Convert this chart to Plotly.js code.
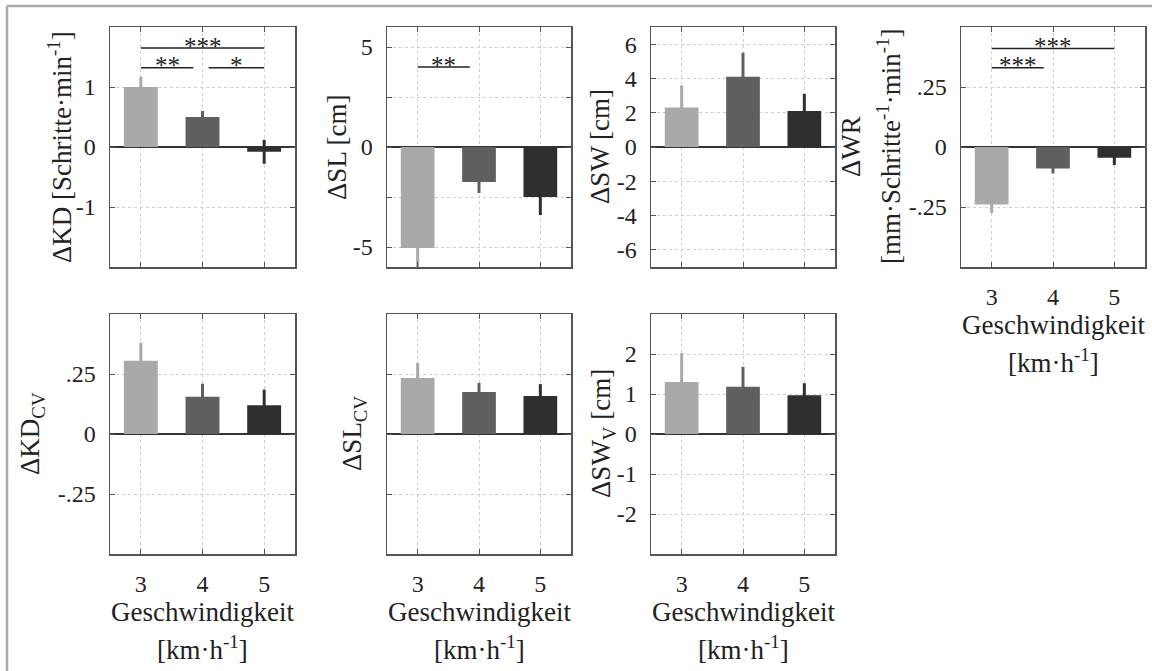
<!DOCTYPE html>
<html>
<head>
<meta charset="utf-8">
<script src="https://cdn.plot.ly/plotly-3.0.1.min.js"></script>
<style>
  html, body { margin: 0; padding: 0; background: #fff; }
  #chart { width: 1152px; height: 671px; }
</style>
</head>
<body>
<div id="chart"></div>
<script>
// Walking speed categories (km/h)
const speeds = [3, 4, 5];
const barColors = ['#a9a9a9', '#5f5f5f', '#2f2f2f'];

// Mean changes and their error values per speed
const kd = [1.0, 0.5, -0.08];
const kdErr = [0.17, 0.1, 0.2];
const sl = [-5.05, -1.75, -2.5];
const slErr = [1.15, 0.55, 0.9];
const sw = [2.3, 4.1, 2.1];
const swErr = [1.3, 1.4, 1.0];
const wr = [-0.24, -0.09, -0.045];
const wrErr = [0.035, 0.02, 0.03];
const kdCv = [0.305, 0.155, 0.12];
const kdCvErr = [0.075, 0.055, 0.065];
const slCv = [0.233, 0.175, 0.158];
const slCvErr = [0.063, 0.038, 0.05];
const swV = [1.3, 1.18, 0.97];
const swVErr = [0.72, 0.5, 0.3];

// Significance brackets: [from, to, height, stars]
const kdSig = [[3, 5, 1.65, '***'], [3, 3.85, 1.32, '**'], [4.1, 5, 1.32, '*']];
const slSig = [[3, 3.85, 4.0, '**']];
const wrSig = [[3, 5, 0.41, '***'], [3, 3.85, 0.33, '***']];

const W = 1152, H = 671;
const fx = px => px / W;
const fy = py => 1 - py / H;

// Panel boxes in pixels: [left, right, top, bottom]
const panels = [
  { box: [110, 295, 27, 267], vals: kd, err: kdErr, range: [-2, 2], ticks: [-1, 0, 1], labels: ['-1', '0', '1'], sig: kdSig, xlabels: false,
    ytitle: ['ΔKD [Schritte·min<sup>-1</sup>]'], ytx: [60] },
  { box: [387, 571, 27, 267], vals: sl, err: slErr, range: [-6, 6], ticks: [-5, -2.5, 0, 2.5, 5], labels: ['-5', ' ', '0', ' ', '5'], sig: slSig, xlabels: false,
    ytitle: ['ΔSL [cm]'], ytx: [337] },
  { box: [651, 835, 27, 267], vals: sw, err: swErr, range: [-7, 7], ticks: [-6, -4, -2, 0, 2, 4, 6], labels: ['-6', '-4', '-2', '0', '2', '4', '6'], sig: [], xlabels: false,
    ytitle: ['ΔSW [cm]'], ytx: [600] },
  { box: [961, 1145, 27, 267], vals: wr, err: wrErr, range: [-0.5, 0.5], ticks: [-0.25, 0, 0.25], labels: ['-.25', '0', '.25'], sig: wrSig, xlabels: true,
    ytitle: ['ΔWR', '[mm·Schritte<sup>-1</sup>·min<sup>-1</sup>]'], ytx: [851, 889] },
  { box: [110, 295, 314, 554], vals: kdCv, err: kdCvErr, range: [-0.5, 0.5], ticks: [-0.25, 0, 0.25], labels: ['-.25', '0', '.25'], sig: [], xlabels: true,
    ytitle: ['ΔKD<sub>CV</sub>'], ytx: [32] },
  { box: [387, 571, 314, 554], vals: slCv, err: slCvErr, range: [-0.5, 0.5], ticks: [-0.25, 0, 0.25], labels: null, sig: [], xlabels: true,
    ytitle: ['ΔSL<sub>CV</sub>'], ytx: [354] },
  { box: [651, 835, 314, 554], vals: swV, err: swVErr, range: [-3, 3], ticks: [-2, -1, 0, 1, 2], labels: ['-2', '-1', '0', '1', '2'], sig: [], xlabels: true,
    ytitle: ['ΔSW<sub>V</sub> [cm]'], ytx: [603] }
];

const family = '"Liberation Serif", "Times New Roman", Times, serif';
const txt = (size) => ({ family: family, size: size, color: '#222' });
const axisLine = '#555';
const traces = [];
const layout = {
  width: W, height: H,
  margin: { l: 0, r: 0, t: 0, b: 0 },
  paper_bgcolor: '#fff', plot_bgcolor: '#fff',
  barmode: 'overlay',
  showlegend: false,
  font: txt(23),
  shapes: [],
  annotations: []
};

panels.forEach((p, i) => {
  const n = i + 1;
  const xa = 'x' + n, ya = 'y' + n;
  const [l, r, t, b] = p.box;

  speeds.forEach((s, j) => {
    traces.push({
      type: 'bar', x: [s], y: [p.vals[j]], width: 0.55,
      xaxis: xa, yaxis: ya,
      marker: { color: barColors[j], line: { width: 0 } },
      error_y: { type: 'data', array: [p.err[j]], visible: true, color: barColors[j], thickness: 3, width: 0 },
      hoverinfo: 'y'
    });
  });

  layout['xaxis' + (n === 1 ? '' : n)] = {
    domain: [fx(l), fx(r)], anchor: ya,
    range: [2.5, 5.5], tickvals: speeds, ticktext: speeds.map(String),
    showticklabels: p.xlabels, tickfont: txt(24),
    ticklabelstandoff: 8,
    showgrid: true, gridcolor: '#cfcfcf', griddash: 'dot', gridwidth: 1,
    showline: true, linecolor: axisLine, linewidth: 1.5, mirror: 'ticks',
    ticks: 'inside', ticklen: 5, tickcolor: axisLine, zeroline: false, fixedrange: true
  };
  const yax = {
    domain: [fy(b), fy(t)], anchor: xa,
    range: p.range, tickvals: p.ticks,
    tickfont: txt(24),
    ticklabelstandoff: 8,
    showgrid: true, gridcolor: '#cfcfcf', griddash: 'dot', gridwidth: 1,
    showline: true, linecolor: axisLine, linewidth: 1.5, mirror: 'ticks',
    ticks: 'inside', ticklen: 5, tickcolor: axisLine,
    zeroline: true, zerolinecolor: '#333', zerolinewidth: 1.5, fixedrange: true
  };
  if (p.labels) { yax.ticktext = p.labels; } else { yax.showticklabels = false; }
  layout['yaxis' + (n === 1 ? '' : n)] = yax;

  // y-axis titles, written vertically beside each panel
  p.ytitle.forEach((text, k) => {
    layout.annotations.push({
      xref: 'paper', yref: 'paper', x: fx(p.ytx[k]), y: fy((t + b) / 2),
      xanchor: 'center', yanchor: 'middle', textangle: -90, showarrow: false,
      text: text, font: txt(27)
    });
  });

  // speed axis title below panels that show the speed labels
  if (p.xlabels) {
    const cx = fx((l + r) / 2);
    layout.annotations.push({
      xref: 'paper', yref: 'paper', x: cx, y: fy(b + 58), xanchor: 'center', yanchor: 'middle',
      showarrow: false, text: 'Geschwindigkeit', font: txt(27)
    });
    layout.annotations.push({
      xref: 'paper', yref: 'paper', x: cx, y: fy(b + 94), xanchor: 'center', yanchor: 'middle',
      showarrow: false, text: '[km·h<sup>-1</sup>]', font: txt(27)
    });
  }

  // significance brackets with stars
  p.sig.forEach(([x0, x1, yv, stars]) => {
    layout.shapes.push({
      type: 'line', xref: xa, yref: ya, x0: x0, x1: x1, y0: yv, y1: yv,
      line: { color: '#222', width: 1.5 }
    });
    layout.annotations.push({
      xref: xa, yref: ya, x: (x0 + x1) / 2, y: yv, xanchor: 'center', yanchor: 'middle',
      yshift: 2, showarrow: false, text: stars, font: txt(25)
    });
  });
});

// thin frame along the top and left edges of the figure
layout.shapes.push({ type: 'line', xref: 'paper', yref: 'paper', x0: fx(7), x1: 1, y0: fy(6), y1: fy(6), line: { color: '#aaaaaa', width: 2.5 } });
layout.shapes.push({ type: 'line', xref: 'paper', yref: 'paper', x0: fx(7), x1: fx(7), y0: fy(6), y1: 0, line: { color: '#aaaaaa', width: 2.5 } });

Plotly.newPlot('chart', traces, layout, { staticPlot: true, displayModeBar: false });
</script>
</body>
</html>
